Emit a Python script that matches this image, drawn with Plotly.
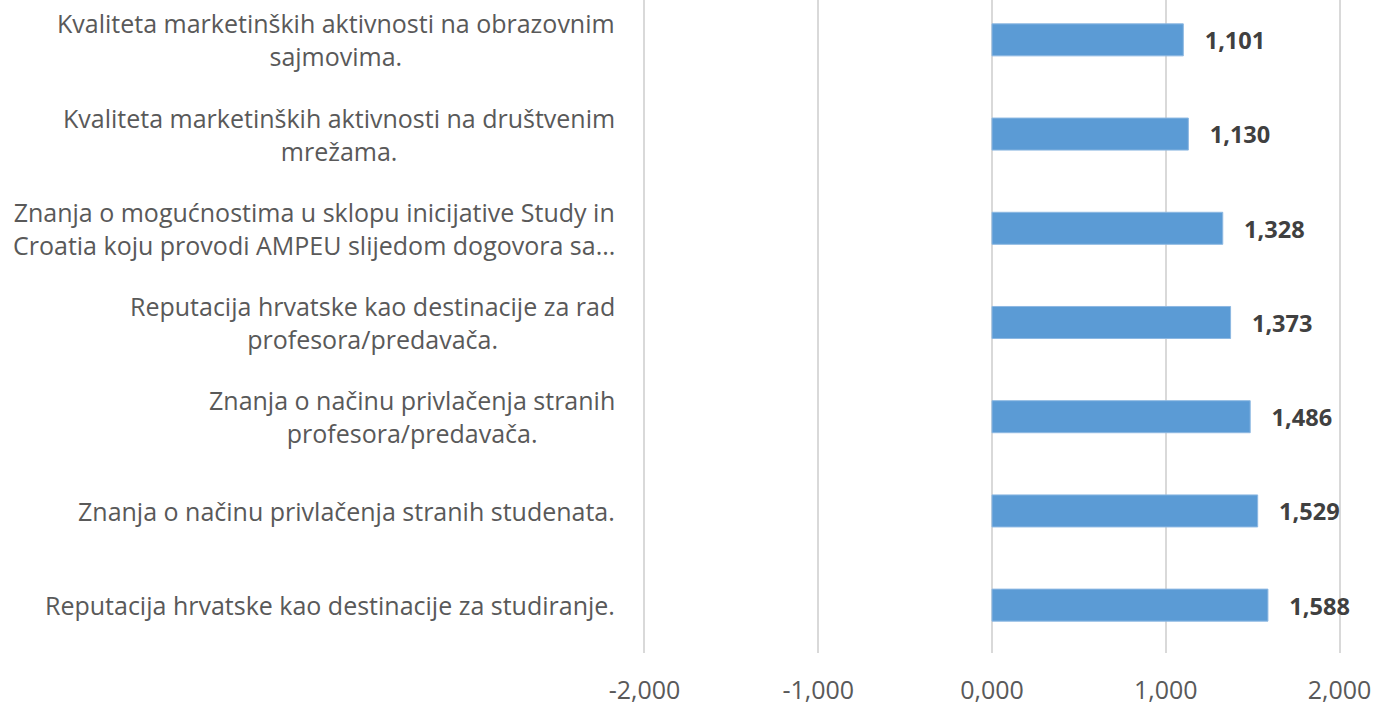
import plotly.graph_objects as go

kategorije = [
    "Kvaliteta marketinških aktivnosti na obrazovnim<br>sajmovima.",
    "Kvaliteta marketinških aktivnosti na društvenim<br>mrežama.",
    "Znanja o mogućnostima u sklopu inicijative Study in<br>Croatia koju provodi AMPEU slijedom dogovora sa...",
    "Reputacija hrvatske kao destinacije za rad<br>profesora/predavača.",
    "Znanja o načinu privlačenja stranih<br>profesora/predavača.",
    "Znanja o načinu privlačenja stranih studenata.",
    "Reputacija hrvatske kao destinacije za studiranje.",
]
vrijednosti = [1.101, 1.130, 1.328, 1.373, 1.486, 1.529, 1.588]
x_tickovi = [-2, -1, 0, 1, 2]
x_oznake = ["-2,000", "-1,000", "0,000", "1,000", "2,000"]

FONT = "Open Sans"
pozicije = list(range(len(kategorije)))

fig = go.Figure()
fig.add_trace(
    go.Bar(
        x=vrijednosti,
        y=pozicije,
        orientation="h",
        width=0.34,
        marker=dict(color="#5B9BD5", line=dict(color="#8DB8E2", width=1)),
        texttemplate="\u00a0\u00a0\u00a0<b>%{x:.3f}</b>",
        textposition="outside",
        cliponaxis=False,
        textfont=dict(family=FONT, size=25, color="#404040"),
        hoverinfo="skip",
    )
)

# oznake kategorija, centrirane kao u Excelu
for i, kat in enumerate(kategorije):
    fig.add_annotation(
        x=0, xref="paper", xanchor="right", xshift=-24,
        y=i, yref="y",
        text=kat, align="center", showarrow=False,
        font=dict(family=FONT, size=25, color="#595959"),
    )

fig.update_xaxes(
    range=[-2.02, 2.02],
    tickvals=x_tickovi,
    ticktext=x_oznake,
    showgrid=True,
    gridcolor="#D9D9D9",
    gridwidth=2,
    zeroline=False,
    showline=False,
    ticklabelstandoff=20,
    tickfont=dict(family=FONT, size=25, color="#595959"),
)
fig.update_yaxes(
    range=[6.508, -0.423],
    showticklabels=False,
    showgrid=False,
    zeroline=False,
)
fig.update_layout(
    width=1375,
    height=706,
    separators=",.",
    showlegend=False,
    plot_bgcolor="white",
    paper_bgcolor="white",
    margin=dict(l=641, r=32, t=0, b=51),
)

fig.write_html(
    "out.html",
    config={"displayModeBar": False},
    post_script="document.body.style.margin='0';",
)
